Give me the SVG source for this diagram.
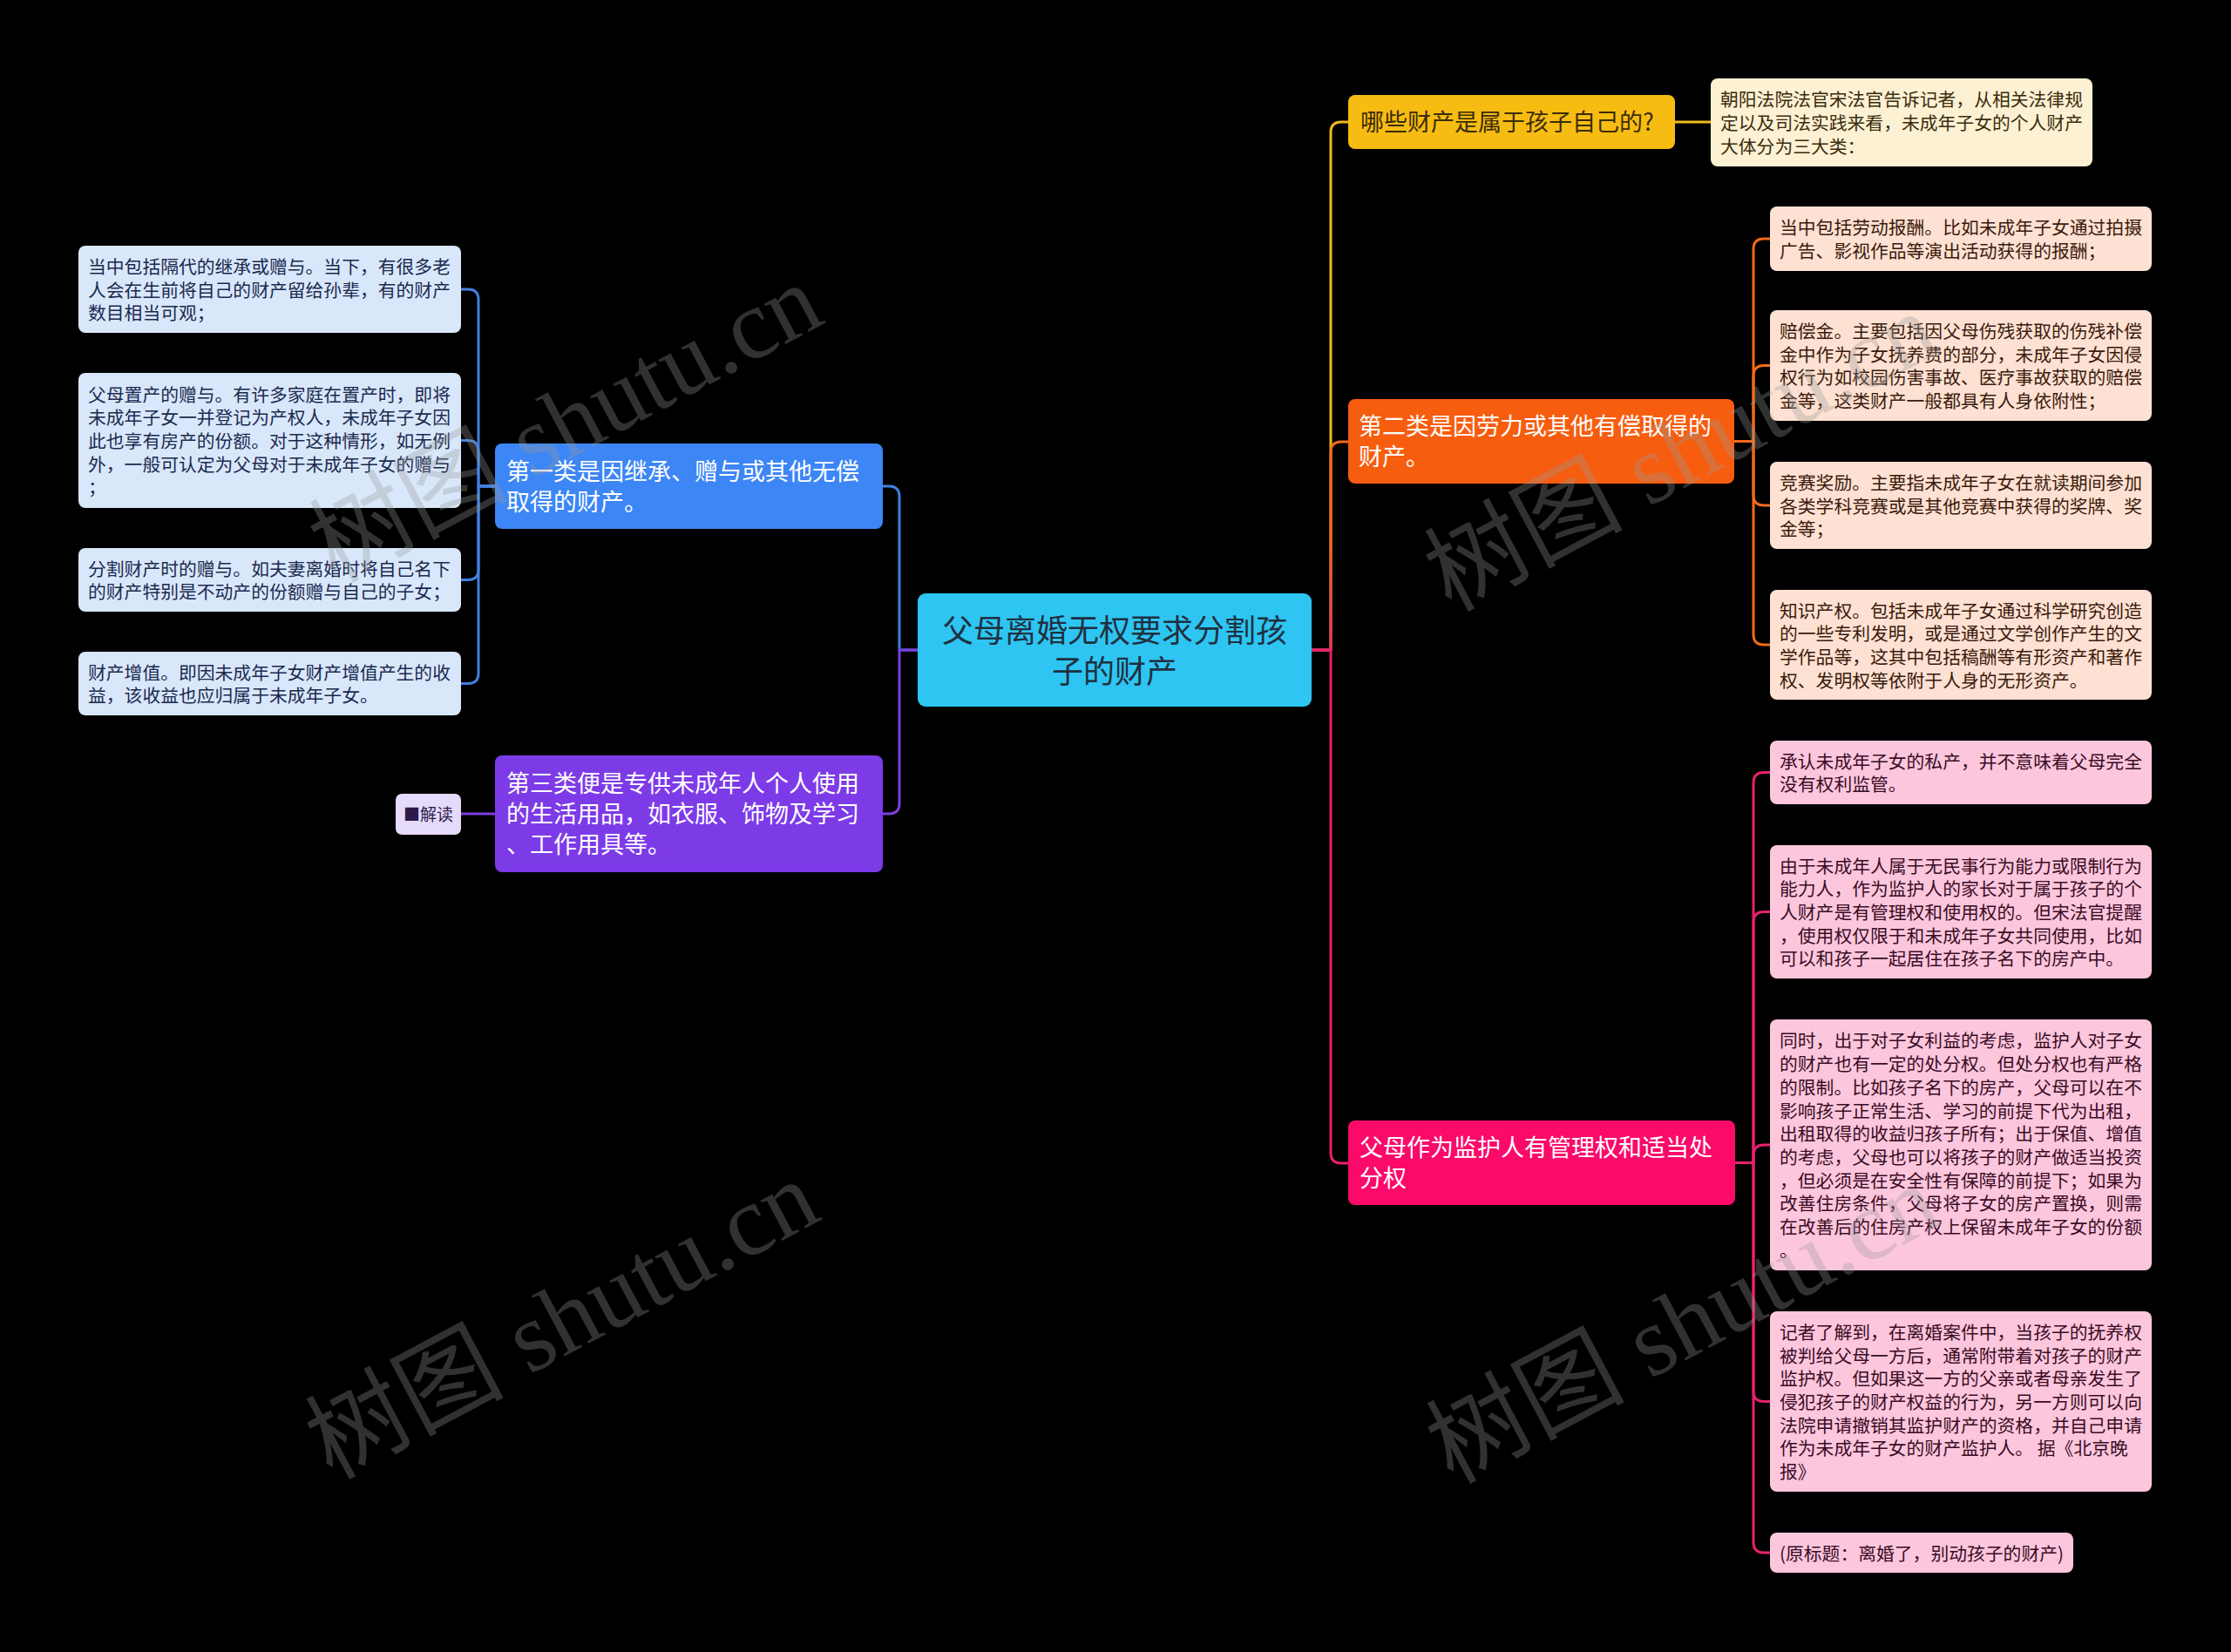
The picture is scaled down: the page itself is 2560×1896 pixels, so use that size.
<svg xmlns="http://www.w3.org/2000/svg" width="2560" height="1896" viewBox="0 0 2560 1896">
<defs>
<style>
.t{font-family:"Noto Sans CJK SC","Liberation Sans",sans-serif}
.leaf{font-size:20.8px}
.br{font-size:27px;fill:#ffffff}
.c{fill:none;stroke-width:3;stroke-linecap:round;stroke-linejoin:round}
.wm{font-family:"Liberation Serif","Noto Sans CJK SC",serif;font-size:114px;fill:#9a9a9a;opacity:0.32}
</style>
<linearGradient id="og" gradientUnits="userSpaceOnUse" x1="0" y1="746" x2="0" y2="620">
<stop offset="0" stop-color="#e8306a"/>
<stop offset="1" stop-color="#f26a1b"/>
</linearGradient>
</defs>
<rect x="0" y="0" width="2560" height="1896" fill="#000000"/>

<g id="connectors">
<path class="c" stroke="#4080e0" d="M1053 746 H1032 V570 Q1032 558 1020 558 H1013"/>
<path class="c" stroke="#7b3fe0" d="M1053 746 H1032 V922 Q1032 934 1020 934 H1013"/>
<path class="c" stroke="#4080e0" d="M568 558 H549 V344 Q549 332 537 332 H529"/>
<path class="c" stroke="#4080e0" d="M568 558 H549 V517.5 Q549 505.5 537 505.5 H529"/>
<path class="c" stroke="#4080e0" d="M568 558 H549 V653.5 Q549 665.5 537 665.5 H529"/>
<path class="c" stroke="#4080e0" d="M568 558 H549 V772.5 Q549 784.5 537 784.5 H529"/>
<path class="c" stroke="#7b3fe0" d="M529 934 H568"/>
<path class="c" stroke="#f0b91c" d="M1505 746 H1527 V152 Q1527 140 1539 140 H1547"/>
<path class="c" stroke="url(#og)" d="M1505 746 H1527 V519 Q1527 507 1539 507 H1547"/>
<path class="c" stroke="#e8206e" d="M1505 746 H1527 V1323 Q1527 1335 1539 1335 H1547"/>
<path class="c" stroke="#f0b91c" d="M1922 140 H1963"/>
<path class="c" stroke="#f26a1b" d="M1990 506.5 H2012 V286 Q2012 274 2024 274 H2031"/>
<path class="c" stroke="#f26a1b" d="M1990 506.5 H2012 V431.5 Q2012 419.5 2024 419.5 H2031"/>
<path class="c" stroke="#f26a1b" d="M1990 506.5 H2012 V568 Q2012 580 2024 580 H2031"/>
<path class="c" stroke="#f26a1b" d="M1990 506.5 H2012 V728 Q2012 740 2024 740 H2031"/>
<path class="c" stroke="#e8206e" d="M1990 1334.5 H2012 V898.5 Q2012 886.5 2024 886.5 H2031"/>
<path class="c" stroke="#e8206e" d="M1990 1334.5 H2012 V1058.5 Q2012 1046.5 2024 1046.5 H2031"/>
<path class="c" stroke="#e8206e" d="M1990 1334.5 H2012 V1326 Q2012 1314 2024 1314 H2031"/>
<path class="c" stroke="#e8206e" d="M1990 1334.5 H2012 V1596.5 Q2012 1608.5 2024 1608.5 H2031"/>
<path class="c" stroke="#e8206e" d="M1990 1334.5 H2012 V1770 Q2012 1782 2024 1782 H2031"/>
</g>

<g id="center">
<rect x="1053" y="681" width="452" height="130" rx="9" fill="#2ec5f2"/>
<text class="t" font-size="36" fill="#1f3040" text-anchor="middle"><tspan x="1279" y="736.5">父母离婚无权要求分割孩</tspan><tspan x="1279" y="783.5">子的财产</tspan></text>
</g>

<g id="branch1">
<rect x="568" y="509" width="445" height="98" rx="8" fill="#3d86f5"/>
<text class="t br"><tspan x="581" y="550.5">第一类是因继承、赠与或其他无偿</tspan><tspan x="581" y="585.5">取得的财产。</tspan></text>
</g>
<g id="leaf-l1">
<rect x="90" y="282" width="439" height="100" rx="8" fill="#d9e7fb"/>
<text class="t leaf" fill="#1b2a4e"><tspan x="101" y="313.8">当中包括隔代的继承或赠与。当下，有很多老</tspan><tspan x="101" y="340.5">人会在生前将自己的财产留给孙辈，有的财产</tspan><tspan x="101" y="367.2">数目相当可观；</tspan></text>
</g>
<g id="leaf-l2">
<rect x="90" y="428" width="439" height="155" rx="8" fill="#d9e7fb"/>
<text class="t leaf" fill="#1b2a4e"><tspan x="101" y="460.6">父母置产的赠与。有许多家庭在置产时，即将</tspan><tspan x="101" y="487.3">未成年子女一并登记为产权人，未成年子女因</tspan><tspan x="101" y="514">此也享有房产的份额。对于这种情形，如无例</tspan><tspan x="101" y="540.7">外，一般可认定为父母对于未成年子女的赠与</tspan><tspan x="101" y="567.4">；</tspan></text>
</g>
<g id="leaf-l3">
<rect x="90" y="629" width="439" height="73" rx="8" fill="#d9e7fb"/>
<text class="t leaf" fill="#1b2a4e"><tspan x="101" y="660.7">分割财产时的赠与。如夫妻离婚时将自己名下</tspan><tspan x="101" y="687.4">的财产特别是不动产的份额赠与自己的子女；</tspan></text>
</g>
<g id="leaf-l4">
<rect x="90" y="748" width="439" height="73" rx="8" fill="#d9e7fb"/>
<text class="t leaf" fill="#1b2a4e"><tspan x="101" y="779.7">财产增值。即因未成年子女财产增值产生的收</tspan><tspan x="101" y="806.4">益，该收益也应归属于未成年子女。</tspan></text>
</g>

<g id="branch3">
<rect x="568" y="867" width="445" height="134" rx="8" fill="#7d3be8"/>
<text class="t br"><tspan x="581" y="909">第三类便是专供未成年人个人使用</tspan><tspan x="581" y="944">的生活用品，如衣服、饰物及学习</tspan><tspan x="581" y="979">、工作用具等。</tspan></text>
</g>
<g id="note">
<rect x="454" y="911" width="75" height="47" rx="7" fill="#e6dafa"/>
<text class="t" font-size="19" fill="#2a1a4a" text-anchor="middle" x="491.5" y="941.5">■解读</text>
</g>

<g id="branch-yellow">
<rect x="1547" y="109" width="375" height="62" rx="8" fill="#f7bc12"/>
<text class="t" font-size="27" fill="#3a2c08" x="1561" y="150">哪些财产是属于孩子自己的?</text>
</g>
<g id="leaf-y1">
<rect x="1963" y="90" width="438" height="101" rx="8" fill="#fdf1d4"/>
<text class="t leaf" fill="#3a2c0c"><tspan x="1974" y="122.3">朝阳法院法官宋法官告诉记者，从相关法律规</tspan><tspan x="1974" y="149">定以及司法实践来看，未成年子女的个人财产</tspan><tspan x="1974" y="175.7">大体分为三大类：</tspan></text>
</g>

<g id="branch-orange">
<rect x="1547" y="458" width="443" height="97" rx="8" fill="#f75d0f"/>
<text class="t br"><tspan x="1559" y="499">第二类是因劳力或其他有偿取得的</tspan><tspan x="1559" y="534">财产。</tspan></text>
</g>
<g id="leaf-o1">
<rect x="2031" y="237" width="438" height="74" rx="8" fill="#fde1d2"/>
<text class="t leaf" fill="#3b1a0c"><tspan x="2042" y="269.2">当中包括劳动报酬。比如未成年子女通过拍摄</tspan><tspan x="2042" y="295.9">广告、影视作品等演出活动获得的报酬；</tspan></text>
</g>
<g id="leaf-o2">
<rect x="2031" y="356" width="438" height="127" rx="8" fill="#fde1d2"/>
<text class="t leaf" fill="#3b1a0c"><tspan x="2042" y="388">赔偿金。主要包括因父母伤残获取的伤残补偿</tspan><tspan x="2042" y="414.7">金中作为子女抚养费的部分，未成年子女因侵</tspan><tspan x="2042" y="441.4">权行为如校园伤害事故、医疗事故获取的赔偿</tspan><tspan x="2042" y="468.1">金等，这类财产一般都具有人身依附性；</tspan></text>
</g>
<g id="leaf-o3">
<rect x="2031" y="530" width="438" height="100" rx="8" fill="#fde1d2"/>
<text class="t leaf" fill="#3b1a0c"><tspan x="2042" y="561.8">竞赛奖励。主要指未成年子女在就读期间参加</tspan><tspan x="2042" y="588.5">各类学科竞赛或是其他竞赛中获得的奖牌、奖</tspan><tspan x="2042" y="615.2">金等；</tspan></text>
</g>
<g id="leaf-o4">
<rect x="2031" y="677" width="438" height="126" rx="8" fill="#fde1d2"/>
<text class="t leaf" fill="#3b1a0c"><tspan x="2042" y="708.5">知识产权。包括未成年子女通过科学研究创造</tspan><tspan x="2042" y="735.2">的一些专利发明，或是通过文学创作产生的文</tspan><tspan x="2042" y="761.9">学作品等，这其中包括稿酬等有形资产和著作</tspan><tspan x="2042" y="788.6">权、发明权等依附于人身的无形资产。</tspan></text>
</g>

<g id="branch-pink">
<rect x="1547" y="1286" width="444" height="97" rx="8" fill="#fb0a6a"/>
<text class="t br"><tspan x="1560" y="1327">父母作为监护人有管理权和适当处</tspan><tspan x="1560" y="1362">分权</tspan></text>
</g>
<g id="leaf-p1">
<rect x="2031" y="850" width="438" height="73" rx="8" fill="#fcc6dd"/>
<text class="t leaf" fill="#3a0c24"><tspan x="2042" y="881.7">承认未成年子女的私产，并不意味着父母完全</tspan><tspan x="2042" y="908.4">没有权利监管。</tspan></text>
</g>
<g id="leaf-p2">
<rect x="2031" y="970" width="438" height="153" rx="8" fill="#fcc6dd"/>
<text class="t leaf" fill="#3a0c24"><tspan x="2042" y="1001.6">由于未成年人属于无民事行为能力或限制行为</tspan><tspan x="2042" y="1028.3">能力人，作为监护人的家长对于属于孩子的个</tspan><tspan x="2042" y="1055">人财产是有管理权和使用权的。但宋法官提醒</tspan><tspan x="2042" y="1081.7">，使用权仅限于和未成年子女共同使用，比如</tspan><tspan x="2042" y="1108.4">可以和孩子一起居住在孩子名下的房产中。</tspan></text>
</g>
<g id="leaf-p3">
<rect x="2031" y="1170" width="438" height="288" rx="8" fill="#fcc6dd"/>
<text class="t leaf" fill="#3a0c24"><tspan x="2042" y="1202.4">同时，出于对子女利益的考虑，监护人对子女</tspan><tspan x="2042" y="1229.1">的财产也有一定的处分权。但处分权也有严格</tspan><tspan x="2042" y="1255.8">的限制。比如孩子名下的房产，父母可以在不</tspan><tspan x="2042" y="1282.5">影响孩子正常生活、学习的前提下代为出租，</tspan><tspan x="2042" y="1309.2">出租取得的收益归孩子所有；出于保值、增值</tspan><tspan x="2042" y="1335.9">的考虑，父母也可以将孩子的财产做适当投资</tspan><tspan x="2042" y="1362.6">，但必须是在安全性有保障的前提下；如果为</tspan><tspan x="2042" y="1389.3">改善住房条件，父母将子女的房产置换，则需</tspan><tspan x="2042" y="1416">在改善后的住房产权上保留未成年子女的份额</tspan><tspan x="2042" y="1442.7">。</tspan></text>
</g>
<g id="leaf-p4">
<rect x="2031" y="1505" width="438" height="207" rx="8" fill="#fcc6dd"/>
<text class="t leaf" fill="#3a0c24"><tspan x="2042" y="1536.9">记者了解到，在离婚案件中，当孩子的抚养权</tspan><tspan x="2042" y="1563.6">被判给父母一方后，通常附带着对孩子的财产</tspan><tspan x="2042" y="1590.3">监护权。但如果这一方的父亲或者母亲发生了</tspan><tspan x="2042" y="1617">侵犯孩子的财产权益的行为，另一方则可以向</tspan><tspan x="2042" y="1643.7">法院申请撤销其监护财产的资格，并自己申请</tspan><tspan x="2042" y="1670.4">作为未成年子女的财产监护人。 据《北京晚</tspan><tspan x="2042" y="1697.1">报》</tspan></text>
</g>
<g id="leaf-p5">
<rect x="2031" y="1759" width="348" height="46" rx="8" fill="#fcc6dd"/>
<text class="t leaf" fill="#3a0c24" x="2042" y="1790.5">(原标题：离婚了，别动孩子的财产)</text>
</g>

<g id="watermarks">
<text class="wm" text-anchor="middle" transform="translate(649 486) rotate(-28)" x="0" y="38">树图 shutu.cn</text>
<text class="wm" text-anchor="middle" transform="translate(645 1515) rotate(-28)" x="0" y="38">树图 shutu.cn</text>
<text class="wm" text-anchor="middle" transform="translate(1929 519) rotate(-28)" x="0" y="38">树图 shutu.cn</text>
<text class="wm" text-anchor="middle" transform="translate(1931 1520) rotate(-28)" x="0" y="38">树图 shutu.cn</text>
</g>
</svg>
